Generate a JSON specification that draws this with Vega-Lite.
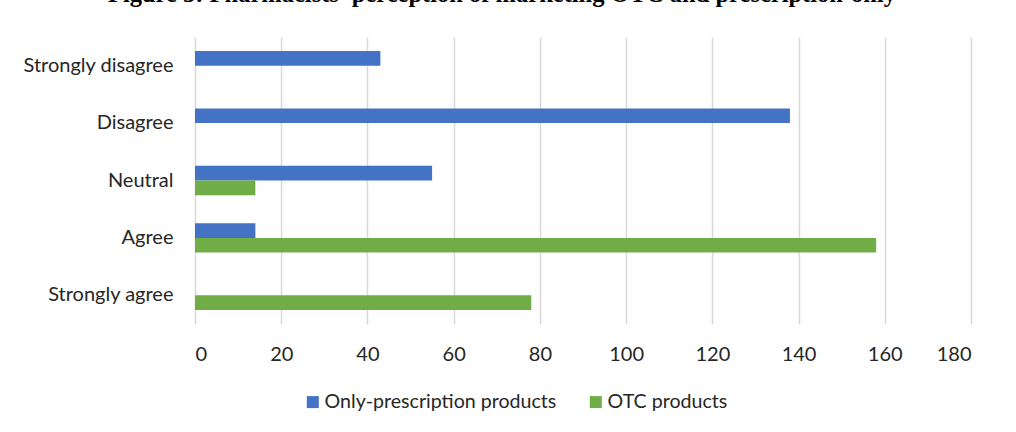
{
  "$schema": "https://vega.github.io/schema/vega-lite/v6.json",
  "width": 776,
  "height": 287,
  "autosize": {"type": "none"},
  "padding": {"left": 195, "top": 37, "right": 45, "bottom": 108},
  "background": "white",
  "title": {
    "text": "Figure 5: Pharmacists' perception of marketing OTC and prescription-only",
    "font": "Liberation Serif",
    "fontSize": 24.5,
    "fontWeight": "bold",
    "color": "#000000",
    "anchor": "middle",
    "frame": "group",
    "baseline": "alphabetic",
    "offset": 11,
    "dx": -81
  },
  "data": {
    "values": [
      {"response": "Strongly disagree", "product": "Only-prescription products", "count": 43},
      {"response": "Strongly disagree", "product": "OTC products", "count": 0},
      {"response": "Disagree", "product": "Only-prescription products", "count": 138},
      {"response": "Disagree", "product": "OTC products", "count": 0},
      {"response": "Neutral", "product": "Only-prescription products", "count": 55},
      {"response": "Neutral", "product": "OTC products", "count": 14},
      {"response": "Agree", "product": "Only-prescription products", "count": 14},
      {"response": "Agree", "product": "OTC products", "count": 158},
      {"response": "Strongly agree", "product": "Only-prescription products", "count": 0},
      {"response": "Strongly agree", "product": "OTC products", "count": 78}
    ]
  },
  "mark": {"type": "bar"},
  "encoding": {
    "y": {
      "field": "response",
      "type": "nominal",
      "sort": ["Strongly disagree", "Disagree", "Neutral", "Agree", "Strongly agree"],
      "scale": {"paddingInner": 0.488, "paddingOuter": 0.244},
      "axis": {
        "title": null,
        "domain": false,
        "ticks": false,
        "labelPadding": 22,
        "labelFont": "Lato",
        "labelFontSize": 20,
        "labelColor": "#262626",
        "grid": false
      }
    },
    "yOffset": {
      "field": "product",
      "type": "nominal",
      "sort": ["Only-prescription products", "OTC products"],
      "scale": {"paddingInner": 0, "paddingOuter": 0}
    },
    "x": {
      "field": "count",
      "type": "quantitative",
      "scale": {"domain": [0, 180], "nice": false},
      "axis": {
        "title": null,
        "values": [0, 20, 40, 60, 80, 100, 120, 140, 160, 180],
        "domain": false,
        "ticks": false,
        "labelPadding": 20,
        "labelFont": "Lato",
        "labelFontSize": 20,
        "labelColor": "#262626",
        "grid": true,
        "gridColor": "#d9d9d9",
        "gridWidth": 1.5
      }
    },
    "color": {
      "field": "product",
      "type": "nominal",
      "sort": ["Only-prescription products", "OTC products"],
      "scale": {"range": ["#4472C4", "#70AD47"]},
      "legend": {
        "title": null,
        "orient": "none",
        "direction": "horizontal",
        "legendX": 108,
        "legendY": 355,
        "symbolType": "square",
        "symbolSize": 144,
        "symbolStrokeWidth": 0,
        "symbolOpacity": 1,
        "labelFont": "Lato",
        "labelFontSize": 19.6,
        "labelColor": "#262626",
        "labelOffset": 2,
        "labelLimit": 400,
        "columnPadding": 29
      }
    }
  },
  "config": {
    "view": {"stroke": null}
  }
}
